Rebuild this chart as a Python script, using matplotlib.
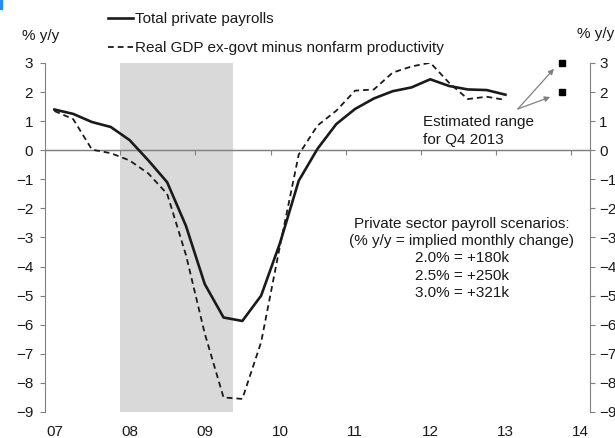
import numpy as np
import matplotlib
matplotlib.use("Agg")
import matplotlib.pyplot as plt
from matplotlib.patches import Rectangle

plt.rcParams['font.family'] = ['Liberation Sans', 'DejaVu Sans']
plt.rcParams['font.size'] = 11

# quarterly series, 2007Q1 .. 2013Q1
first_year = 2007
payrolls = [1.40, 1.25, 0.97, 0.80, 0.35, -0.35, -1.10, -2.60, -4.60, -5.75,
            -5.87, -5.00, -3.20, -1.05, 0.05, 0.90, 1.42, 1.78, 2.03, 2.16,
            2.44, 2.21, 2.09, 2.07, 1.91]
gdp_minus_prod = [1.35, 1.07, 0.02, -0.10, -0.35, -0.80, -1.50, -3.60, -6.30, -8.50,
                  -8.55, -6.60, -3.30, -0.15, 0.85, 1.36, 2.05, 2.09, 2.67, 2.88,
                  3.01, 2.32, 1.76, 1.84, 1.73]
est_q4_2013 = [2.0, 3.0]
recession = (2008.0, 2009.5)

year_ticks = list(range(2007, 2015))
year_labels = ["07", "08", "09", "10", "11", "12", "13", "14"]
scenario_lines = ["Private sector payroll scenarios:",
                  "(% y/y = implied monthly change)",
                  "2.0% = +180k",
                  "2.5% = +250k",
                  "3.0% = +321k"]

grey = "#808080"
ink = "#1a1a1a"

quarters = first_year + 0.125 + 0.25 * np.arange(len(payrolls))
q4_2013 = 2013.875

fig = plt.figure(figsize=(6.15, 4.38), dpi=100)
ax = fig.add_axes([45 / 615, 26 / 438, 545 / 615, 349 / 438])

ax.axvspan(*recession, color="#d9d9d9", lw=0, zorder=0)
ax.axhline(0, color=grey, lw=0.9, zorder=1)

l1, = ax.plot(quarters, payrolls, color=ink, lw=1.9, zorder=3,
              label="Total private payrolls")
l2, = ax.plot(quarters, gdp_minus_prod, color=ink, lw=1.3, ls=(0, (3.2, 2.2)),
              zorder=3, label="Real GDP ex-govt minus nonfarm productivity")
ax.plot([q4_2013] * len(est_q4_2013), est_q4_2013, ls="none", marker="s",
        ms=3.8, color="black", zorder=4, clip_on=False)

ax.set_xlim(2007, 2014.25)
ax.set_ylim(-9, 3)
ax.set_yticks(range(-9, 4))

# x axis: year ticks sit on the zero line, labels below the plot
ax.spines['bottom'].set_visible(False)
ax.spines['top'].set_position(('data', 0))
ax.spines['top'].set_color(grey)
ax.spines['top'].set_linewidth(0.9)
ax.spines['right'].set_visible(False)
ax.spines['left'].set_color(grey)
ax.set_xticks(year_ticks)
ax.set_xticks([y + 0.125 for y in year_ticks], minor=True)
ax.set_xticklabels(year_labels, minor=True)
ax.tick_params(axis='x', which='major', top=True, bottom=False,
               labeltop=False, labelbottom=False, direction='in',
               length=3.5, color=grey, width=0.8)
ax.tick_params(axis='x', which='minor', top=False, bottom=True,
               length=0, labelbottom=True, pad=9, labelsize=11, labelcolor=ink)
ax.tick_params(axis='y', direction='out', length=3.5, color=grey,
               pad=5, labelcolor=ink)

ax2 = ax.twinx()
ax2.set_ylim(ax.get_ylim())
ax2.set_yticks(range(-9, 4))
for side in ['top', 'bottom', 'left']:
    ax2.spines[side].set_visible(False)
ax2.spines['right'].set_color(grey)
ax2.tick_params(axis='y', direction='out', length=3.5, color=grey,
                pad=3, labelcolor=ink)

# arrows from the note to the two estimate markers
for tip in [(2013.77, 2.80), (2013.72, 1.83)]:
    ax.annotate("", xy=tip, xytext=(2013.29, 1.42),
                arrowprops=dict(arrowstyle="-|>", color=grey, lw=0.9,
                                mutation_scale=8, shrinkA=0, shrinkB=0))
ax.text(2007 + (422 - 45) / 75, 0.66, "Estimated range\nfor Q4 2013",
        ha="left", va="center", color=ink, linespacing=1.3)

ax.text(2007 + (461 - 45) / 75, (150.3 - 258.5) / 29.08, "\n".join(scenario_lines),
        ha="center", va="center", color=ink, linespacing=1.31)

fig.legend(handles=[l1, l2], loc="upper left", bbox_to_anchor=(108 / 615, 0.972),
           frameon=False, borderpad=0, borderaxespad=0, handlelength=1.65,
           handletextpad=0.12, labelspacing=0.98, fontsize=11, labelcolor=ink)

fig.text(22 / 615, 1 - 36 / 438, "% y/y", ha="left", va="center", color=ink)
fig.text(577 / 615, 1 - 34 / 438, "% y/y", ha="left", va="center", color=ink)

fig.patches.append(Rectangle((0, 1 - 9 / 438), 2 / 615, 9 / 438,
                             transform=fig.transFigure, color="#1e8fff"))

fig.savefig("out.png", dpi=100)
